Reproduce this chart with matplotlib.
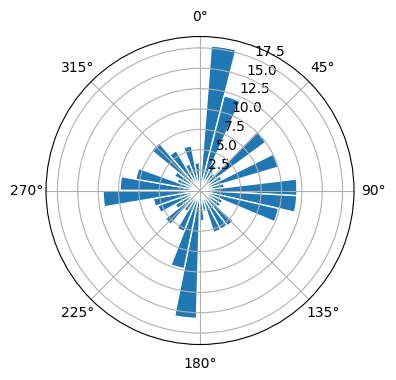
import numpy as np
import matplotlib
matplotlib.use("Agg")
import matplotlib.pyplot as plt

# histogram bins (degrees) and heights
dir_min = 4.5
dir_max = 358.7
n_bins = 36
heights = [17.8, 12.0, 3.5, 2.5, 10.0, 3.0, 10.0, 3.0, 11.9, 11.9,
           9.9, 3.0, 3.0, 5.5, 5.4, 5.4, 2.5, 3.7, 15.7, 9.8,
           5.4, 3.0, 5.5, 3.5, 5.5, 5.8, 11.9, 9.8, 8.0, 3.0,
           3.6, 7.7, 5.7, 3.5, 5.6, 3.4]

edges = np.deg2rad(np.linspace(dir_min, dir_max, n_bins + 1))
bin_w = edges[1] - edges[0]

fig = plt.figure(figsize=(3.96, 3.8), dpi=100)
ax = fig.add_axes([0.1162, 0.0934, 0.7778, 0.8105], projection='polar')
ax.set_theta_zero_location('N')
ax.set_theta_direction(-1)

ax.bar(edges[:-1], heights, width=bin_w, align='edge',
       edgecolor='white', linewidth=1)
ax.set_ylim(0, 18.9)

fig.savefig('out.png', dpi=100)
